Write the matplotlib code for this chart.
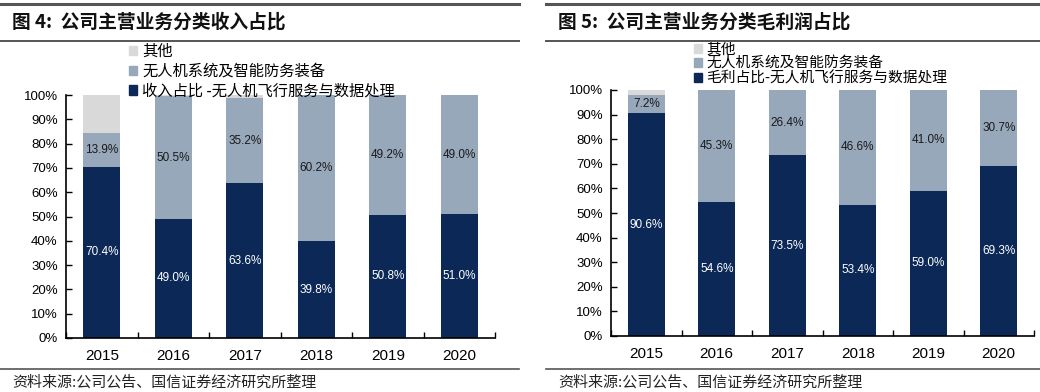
import numpy as np
import matplotlib
matplotlib.use("agg")
import matplotlib.pyplot as plt
from matplotlib.lines import Line2D
from matplotlib.patches import Patch

plt.rcParams['font.family'] = ['Noto Sans CJK SC', 'DejaVu Sans']

# ---- data ----
years = ["2015", "2016", "2017", "2018", "2019", "2020"]

rev_flight = [70.4, 49.0, 63.6, 39.8, 50.8, 51.0]
rev_system = [13.9, 50.5, 35.2, 60.2, 49.2, 49.0]
rev_other = [15.7, 0.5, 1.2, 0.0, 0.0, 0.0]

gp_flight = [90.6, 54.6, 73.5, 53.4, 59.0, 69.3]
gp_system = [7.2, 45.3, 26.4, 46.6, 41.0, 30.7]
gp_other = [2.2, 0.1, 0.1, 0.0, 0.0, 0.0]

titles = ["图 4:  公司主营业务分类收入占比", "图 5:  公司主营业务分类毛利润占比"]
legend_labels = [
    ["其他", "无人机系统及智能防务装备", "收入占比 -无人机飞行服务与数据处理"],
    ["其他", "无人机系统及智能防务装备", "毛利占比-无人机飞行服务与数据处理"],
]
source = "资料来源:公司公告、国信证券经济研究所整理"

NAVY = "#0b2857"
GRAY = "#97a8bb"
LIGHT = "#d9d9d9"
NUM_FONT = ['Liberation Sans', 'DejaVu Sans']

W, H = 1040, 392
fig = plt.figure(figsize=(W / 100, H / 100), dpi=100)


def fx(px):
    return px / W


def fy(py):
    return 1 - py / H


def hline(x0, x1, y, lw):
    fig.add_artist(Line2D([fx(x0), fx(x1)], [fy(y), fy(y)], color="#555555", lw=lw))


def panel(rect, flight, system, other, title, labels, px0, px1, title_x,
          leg_xy, leg_fs, leg_sp):
    ax = fig.add_axes(rect)
    x = np.arange(len(years))
    f = np.array(flight) / 100
    s = np.array(system) / 100
    o = np.array(other) / 100
    bw = 0.52
    ax.bar(x, f, bw, color=NAVY, zorder=2)
    ax.bar(x, s, bw, bottom=f, color=GRAY, zorder=2)
    ax.bar(x, o, bw, bottom=f + s, color=LIGHT, zorder=2)

    for i in range(len(years)):
        ax.text(x[i], f[i] / 2, f"{flight[i]:.1f}%", ha="center", va="center",
                color="white", fontsize=8.5, family=NUM_FONT, zorder=3)
        ax.text(x[i], f[i] + s[i] / 2, f"{system[i]:.1f}%", ha="center", va="center",
                color="#1a1a1a", fontsize=8.5, family=NUM_FONT, zorder=3)

    ax.set_xlim(-0.5, len(years) - 0.5)
    ax.set_ylim(0, 1)
    ax.set_yticks(np.arange(0, 1.01, 0.1))
    ax.set_yticklabels([f"{int(round(v * 100))}%" for v in np.arange(0, 1.01, 0.1)],
                       family=NUM_FONT, fontsize=9.5)
    ax.set_xticks(x)
    ax.set_xticklabels(years, family=NUM_FONT, fontsize=11)
    ax.set_xticks(np.arange(-0.5, len(years), 1.0), minor=True)
    ax.tick_params(axis="x", which="major", length=0, pad=8)
    ax.tick_params(axis="x", which="minor", length=4, direction="in", width=1)
    ax.tick_params(axis="y", length=4, direction="in", width=1, pad=6)
    for sp in ("top", "right"):
        ax.spines[sp].set_visible(False)
    for sp in ("left", "bottom"):
        ax.spines[sp].set_linewidth(1.2)
        ax.spines[sp].set_color("black")

    handles = [Patch(color=LIGHT), Patch(color=GRAY), Patch(color=NAVY)]
    fig.legend(handles, labels, loc="upper left",
               bbox_to_anchor=(fx(leg_xy[0]), fy(leg_xy[1])),
               frameon=False, fontsize=leg_fs, handlelength=0.55, handleheight=0.55,
               handletextpad=0.3, labelspacing=leg_sp, borderpad=0, borderaxespad=0)

    hline(px0, px1, 4, 2.2)
    hline(px0, px1, 41, 1.4)
    hline(px0, px1, 369, 1.2)
    fig.text(fx(title_x), fy(22), title, fontsize=13.5, fontweight="bold",
             va="center", ha="left", color="#111111")
    fig.text(fx(title_x), fy(382), source, fontsize=10.8, va="center", ha="left",
             color="#222222")
    return ax


panel([fx(66), fy(338), fx(495) - fx(66), fy(95) - fy(338)],
      rev_flight, rev_system, rev_other, titles[0], legend_labels[0],
      0, 519, 12, (129, 43), 11, 0.18)
panel([fx(611), fy(336), fx(1034) - fx(611), fy(90) - fy(336)],
      gp_flight, gp_system, gp_other, titles[1], legend_labels[1],
      546, 1040, 558, (694, 43), 10.6, 0.0)

fig.savefig("out.png", dpi=100)
